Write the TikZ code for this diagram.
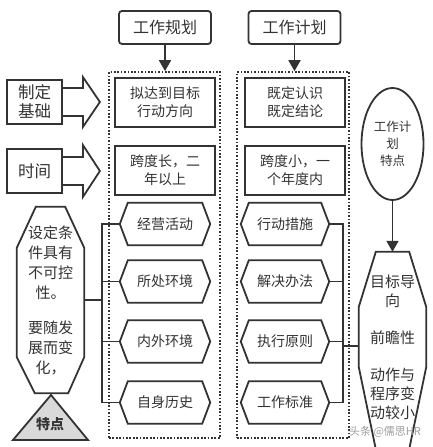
\documentclass[tikz,border=0pt]{standalone}
\usepackage{fontspec}
\setmainfont{Noto Sans CJK SC}
\usetikzlibrary{arrows.meta,shapes.geometric,calc}
\definecolor{ink}{HTML}{333333}
\definecolor{trifill}{HTML}{D9D9D9}
\newcommand\hexbox[5]{%
  \node[hexlabel, minimum width=#4pt] (#1) at (#2,#3) {#5};
  \draw[shapeline] ([xshift=8pt]#1.north west) -- ([xshift=-8pt]#1.north east) -- (#1.east)
    -- ([xshift=-8pt]#1.south east) -- ([xshift=8pt]#1.south west) -- (#1.west) -- cycle;}
\begin{document}
\begin{tikzpicture}[x=1pt,y=-1pt,line join=miter,
  every node/.style={text=ink,align=center,inner sep=0pt,font=\fontsize{14pt}{18pt}\selectfont},
  shapeline/.style={draw=ink,line width=1.8pt},
  conn/.style={draw=ink,line width=1.6pt},
  arr/.style={draw=ink,line width=1.8pt,-{Triangle[length=11pt,width=12pt]}},
  titlebox/.style={shapeline,rounded corners=3pt,minimum width=92pt,minimum height=33pt,font=\fontsize{16pt}{19pt}\selectfont},
  infobox/.style={shapeline,minimum width=100pt,minimum height=49pt},
  sidebox/.style={shapeline,minimum width=55pt,minimum height=44pt,font=\fontsize{16.5pt}{19pt}\selectfont},
  frame/.style={draw=ink,line width=1.7pt,dash pattern=on 1.7pt off 1.7pt},
  hexlabel/.style={minimum height=42pt},
  tall/.style={font=\fontsize{15pt}{20pt}\selectfont}
]
\fill[white] (0,0) rectangle (433,447);
\useasboundingbox (0,0) rectangle (433,447);

% titles and frames
\node[titlebox] (gh) at (165,27.5) {工作规划};
\node[titlebox] (jh) at (294.5,27.5) {工作计划};
\node[frame,minimum width=111pt,minimum height=366pt] (frameL) at (164.5,255) {};
\node[frame,minimum width=112pt,minimum height=366pt] (frameR) at (293,255) {};
\draw[arr] (gh.south) -- (gh.south |- frameL.north);
\draw[arr] (jh.south) -- (jh.south |- frameR.north);

% boxes
\node[infobox] (L1) at (165,102.5) {拟达到目标\\行动方向};
\node[infobox] (L2) at (165,170.5) {跨度长，二\\年以上};
\node[infobox] (R1) at (295,102.5) {既定认识\\既定结论};
\node[infobox] (R2) at (295,170.5) {跨度小，一\\个年度内};

% hexagons
\hexbox{h1}{165}{224}{90}{经营活动}
\hexbox{h2}{165}{281.5}{90}{所处环境}
\hexbox{h3}{165}{341.5}{90}{内外环境}
\hexbox{h4}{165}{402.5}{90}{自身历史}
\hexbox{r1}{285}{224}{88}{行动措施}
\hexbox{r2}{285}{281.5}{88}{解决办法}
\hexbox{r3}{285}{341.5}{88}{执行原则}
\hexbox{r4}{285}{402.5}{88}{工作标准}

% side boxes with block arrows
\node[sidebox] (b1) at (34.5,102) {制定\\基础};
\node[sidebox] (b2) at (34.5,171) {时间};
\draw[shapeline,shift={(b1.east)}] (0,-14) -- (20,-14) -- (20,-25) -- (37,0) -- (20,25) -- (20,14) -- (0,14);
\draw[shapeline,shift={(b2.east)}] (0,-14) -- (20,-14) -- (20,-26) -- (37,0) -- (20,26) -- (20,14) -- (0,14);

% left tall octagon
\node[tall,minimum width=67pt,minimum height=186pt] (octL) at (50.5,300)
  {设定条\\件具有\\不可控\\性。\\[15pt]要随发\\展而变\\化，};
\draw[shapeline] ([xshift=19pt]octL.north west) -- ([xshift=-19pt]octL.north east)
  -- ([yshift=-41pt]octL.north east) -- ([yshift=36pt]octL.south east)
  -- ([xshift=-16pt]octL.south east) -- ([xshift=18pt]octL.south west)
  -- ([yshift=36pt]octL.south west) -- ([yshift=-41pt]octL.north west) -- cycle;

% triangle
\draw[shapeline,fill=trifill] (51,395) -- (88,440) -- (13,440) -- cycle;
\node[font=\bfseries\fontsize{14pt}{16pt}\selectfont] (tri) at (50,424) {特点};

% left connectors
\coordinate (spL) at (102,0);
\draw[conn] (h1.west) -- (h1.west -| spL) -- (h4.west -| spL) -- (h4.west);
\draw[conn] (h2.west) -- (h2.west -| spL);
\draw[conn] (h3.west) -- (h3.west -| spL);
\draw[conn] (octL.east) -- (octL.east -| spL);

% ellipse
\node[ellipse,shapeline,minimum width=62pt,minimum height=112pt,font=\fontsize{12.5pt}{17pt}\selectfont] (ell) at (392.5,144) {工作计\\划\\特点};

% right tall octagon
\node[minimum width=67pt,minimum height=197pt] (octR) at (392.5,350.5) {};
\draw[shapeline] ([xshift=17pt]octR.north west) -- ([xshift=-17pt]octR.north east)
  -- ([yshift=-55pt]octR.north east) -- ([yshift=82pt]octR.south east)
  -- ([xshift=-17pt]octR.south east) -- ([xshift=17pt]octR.south west)
  -- ([yshift=82pt]octR.south west) -- ([yshift=-55pt]octR.north west) -- cycle;
\node[tall,font=\fontsize{15pt}{19pt}\selectfont] (octRtext) at (392.5,347)
  {目标导\\向\\[18pt]前瞻性\\[18pt]动作与\\程序变\\动较小};
\draw[arr] (ell.south) -- (octR.north);

% right connectors
\coordinate (spR) at (343,0);
\draw[conn] (r1.east) -- (r1.east -| spR) -- (r4.east -| spR) -- (r4.east);
\draw[conn] (r2.east) -- (r2.east -| spR);
\draw[conn] (r3.east) -- (r3.east -| spR);
\coordinate (jR) at (343,346);
\draw[conn] (jR) -- (jR -| octR.west);

% watermark
\node[text=gray!75,font=\fontsize{11pt}{12pt}\selectfont] (wm) at (385,432) {头条 @儒思HR};
\end{tikzpicture}
\end{document}
